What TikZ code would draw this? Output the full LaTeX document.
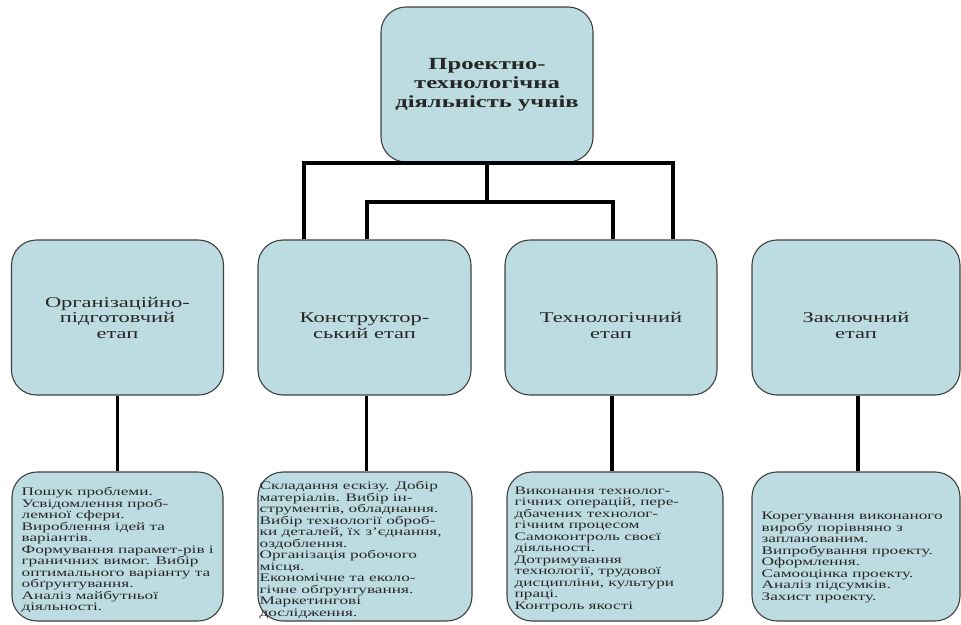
\documentclass[tikz,border=0pt]{standalone}
\usepackage{fontspec}
\setmainfont{Liberation Serif}
\newfontfamily\topfont[FakeStretch=1.45]{Liberation Serif}
\newfontfamily\midfont[FakeStretch=1.5]{Liberation Serif}
\newfontfamily\lowfont[FakeStretch=1.5]{Liberation Serif}
\usetikzlibrary{backgrounds}
\definecolor{boxfill}{HTML}{BDDCE2}
\definecolor{boxline}{HTML}{404040}
\tikzset{
  box/.style={draw=boxline, fill=boxfill, line width=1.1pt, rounded corners=25pt, inner sep=0pt},
  stagebox/.style={box, minimum width=212pt, minimum height=155pt},
  midtext/.style={font=\midfont\fontsize{15pt}{15.5pt}\selectfont, align=center, text=black!85},
  lowtext/.style={font=\lowfont\fontsize{11.5pt}{11.5pt}\selectfont, align=left, anchor=west, text=black!85, inner sep=0pt},
  conn/.style={line width=3.6pt, black},
  thinconn/.style={line width=1.6pt, black}
}
\begin{document}
\begin{tikzpicture}[x=1pt,y=-1pt]
\fill[white] (0,0) rectangle (961,624);
\useasboundingbox (0,0) rectangle (961,624);

% top node
\node[box, minimum width=212pt, minimum height=155pt, align=center,
      font=\topfont\bfseries\fontsize{17pt}{19pt}\selectfont, text=black!85]
  (top) at (487,84.5) {Проектно-\\технологічна\\діяльність учнів};

% stage boxes
\node[stagebox] (s1) at (117.5,317.5) {};
\node[stagebox, minimum width=213pt] (s2) at (364.5,317.5) {};
\node[stagebox] (s3) at (611,317.5) {};
\node[stagebox, minimum width=208pt] (s4) at (856,317.5) {};

\node[midtext] at (s1.center) {Організаційно-\\підготовчий\\етап};
\node[midtext] at ([yshift=-8pt]s2.center) {Конструктор-\\ський етап};
\node[midtext] at ([yshift=-8pt]s3.center) {Технологічний\\етап};
\node[midtext] at ([yshift=-8pt]s4.center) {Заключний\\етап};

% detail boxes
\node[box, minimum width=211pt, minimum height=149pt] (d1) at (117.5,546.5) {};
\node[box, minimum width=214pt, minimum height=149pt] (d2) at (365,546.5) {};
\node[box, minimum width=216pt, minimum height=149pt] (d3) at (615,546.5) {};
\node[box, minimum width=208pt, minimum height=149pt] (d4) at (856,546.5) {};

\node[lowtext] at ([xshift=10pt,yshift=-3.5pt]d1.west) {Пошук  проблеми.\\Усвідомлення проб-\\лемної сфери.\\Вироблення ідей та\\варіантів.\\Формування парамет-рів і\\граничних вимог. Вибір\\оптимального варіанту та\\обґрунтування.\\Аналіз майбутньої\\діяльності.};
\node[lowtext] at ([xshift=2pt,yshift=-3.5pt]d2.west) {Складання ескізу. Добір\\матеріалів.  Вибір ін-\\струментів, обладнання.\\Вибір технології оброб-\\ки деталей, їх з’єднання,\\оздоблення.\\Організація  робочого\\місця.\\Економічне та еколо-\\гічне обґрунтування.\\Маркетингові\\дослідження.};
\node[lowtext] at ([xshift=8pt,yshift=-2.5pt]d3.west) {Виконання технолог-\\гічних  операцій, пере-\\дбачених  технолог-\\гічним процесом\\Самоконтроль своєї\\діяльності.\\Дотримування\\технології, трудової\\дисципліни, культури\\праці.\\Контроль якості};
\node[lowtext] at ([xshift=10pt,yshift=-11pt]d4.west) {Корегування виконаного\\виробу порівняно з\\запланованим.\\Випробування проекту.\\Оформлення.\\Самооцінка проекту.\\Аналіз підсумків.\\Захист проекту.};

% connectors
\coordinate (hL) at (304,163);
\coordinate (hR) at (673,163);
\coordinate (j1) at (487,202);
\coordinate (jL) at (367,202);
\coordinate (jR) at (613,202);

\begin{scope}[on background layer]
  \draw[thinconn] (s1.north) -- (s4.north);
\end{scope}
\draw[conn] (top.south) -- (j1);
\draw[conn] (hL |- s2.north) -- (hL) -- (hR) -- (hR |- s3.north);
\draw[conn] (jL |- s2.north) -- (jL) -- (jR) -- (jR |- s3.north);

\draw[conn] (s1.south) -- (d1.north);
\draw[conn] ([xshift=2pt]s2.south) -- ([xshift=2pt]s2.south |- d2.north);
\draw[conn] ([xshift=1pt]s3.south) -- ([xshift=1pt]s3.south |- d3.north);
\draw[conn] ([xshift=2pt]s4.south) -- ([xshift=2pt]s4.south |- d4.north);
\end{tikzpicture}
\end{document}
